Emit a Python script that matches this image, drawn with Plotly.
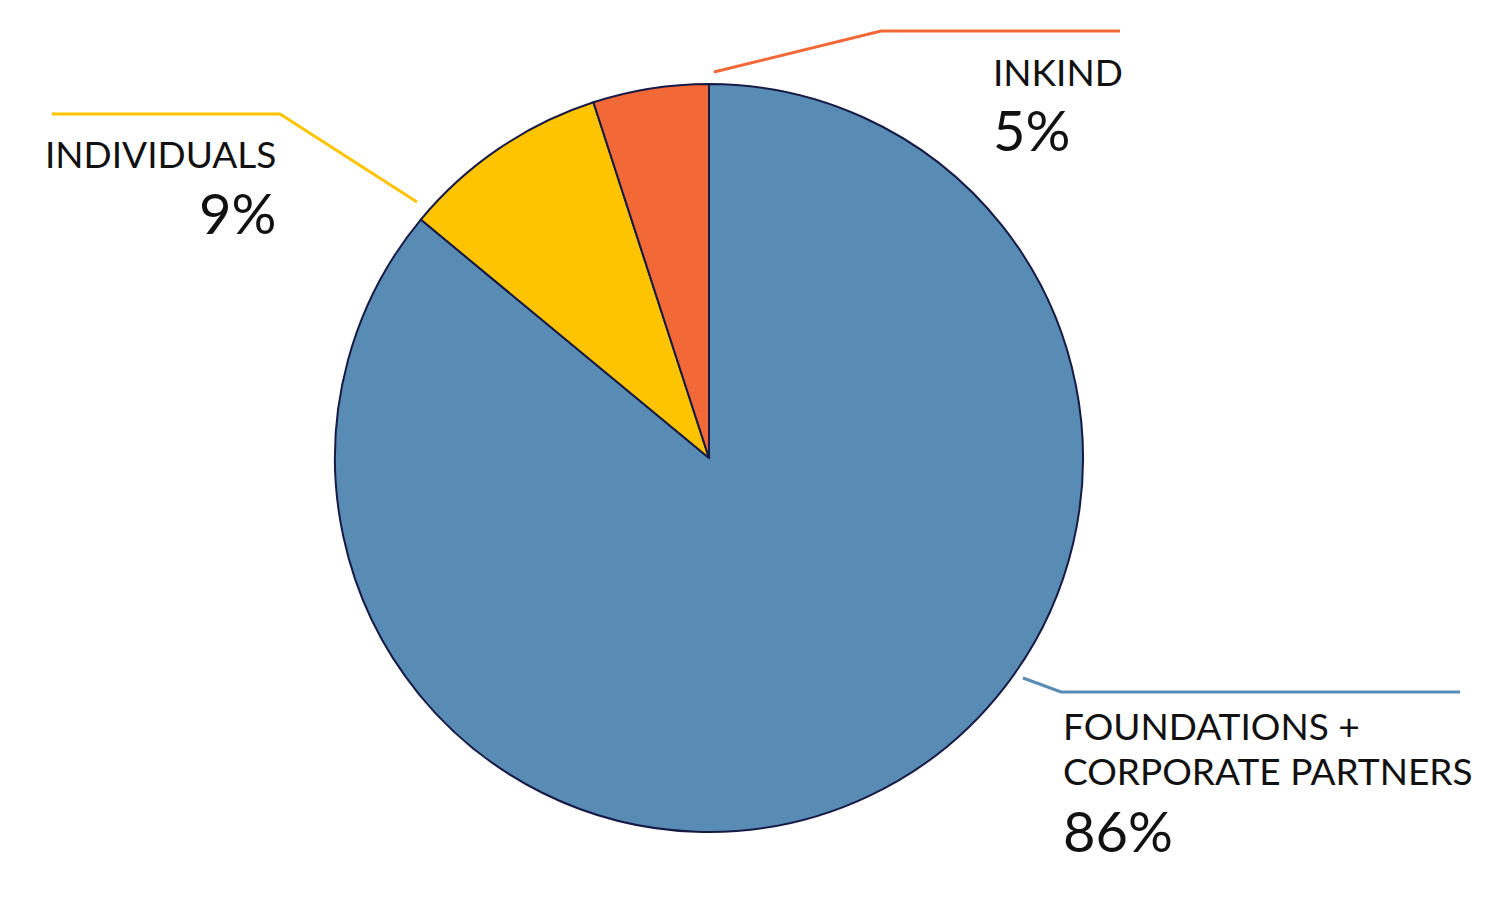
import plotly.graph_objects as go

W, H = 1500, 923
OFF = 8  # default page body margin in the rendered html

labels = ["FOUNDATIONS + CORPORATE PARTNERS", "INDIVIDUALS", "INKIND"]
values = [86, 9, 5]
colors = ["#588cb5", "#fec400", "#f26836"]
label_lines = [["FOUNDATIONS +", "CORPORATE PARTNERS"], ["INDIVIDUALS"], ["INKIND"]]

# pie placement in screen pixels
cx, cy, r = 709, 458, 374


def px(x):
    return (x - OFF) / W


def py(y):
    return 1 - (y - OFF) / H


fig = go.Figure(go.Pie(
    labels=labels,
    values=values,
    sort=False,
    direction="clockwise",
    rotation=0,
    marker=dict(colors=colors, line=dict(color="#161a45", width=2)),
    textinfo="none",
    hoverinfo="label+percent",
    showlegend=False,
    domain=dict(x=[px(cx - r), px(cx + r)], y=[py(cy + r), py(cy - r)]),
))

font = "Lato, 'Open Sans', sans-serif"

# leader lines (decoration, pixel paths)
leaders = [
    ([(1023, 678), (1061, 692), (1460, 692)], colors[0]),
    ([(417, 202), (280, 114), (52, 114)], colors[1]),
    ([(714, 72), (881, 31), (1120, 31)], colors[2]),
]
for pts, col in leaders:
    path = "M " + " L ".join(f"{px(x)},{py(y)}" for x, y in pts)
    fig.add_shape(type="path", path=path, xref="paper", yref="paper",
                  line=dict(color=col, width=3))

# label text blocks: (x, anchor, name y's, pct y)
placements = [
    (1061, "left", [725, 770], 830),
    (278, "right", [153], 212),
    (991, "left", [71], 130),
]
for (x, anchor, ys, pcty), lines, v in zip(placements, label_lines, values):
    for t, yy in zip(lines, ys):
        fig.add_annotation(x=px(x), y=py(yy), xref="paper", yref="paper",
                           text=t, showarrow=False, xanchor=anchor, yanchor="middle",
                           font=dict(family=font, size=37, color="#111111"))
    fig.add_annotation(x=px(x), y=py(pcty), xref="paper", yref="paper",
                       text=f"{v}%", showarrow=False, xanchor=anchor, yanchor="middle",
                       font=dict(family=font, size=56, color="#111111"))

fig.update_layout(
    width=W, height=H,
    margin=dict(l=0, r=0, t=0, b=0),
    paper_bgcolor="white", plot_bgcolor="white",
)

fig.write_html("out.html")
